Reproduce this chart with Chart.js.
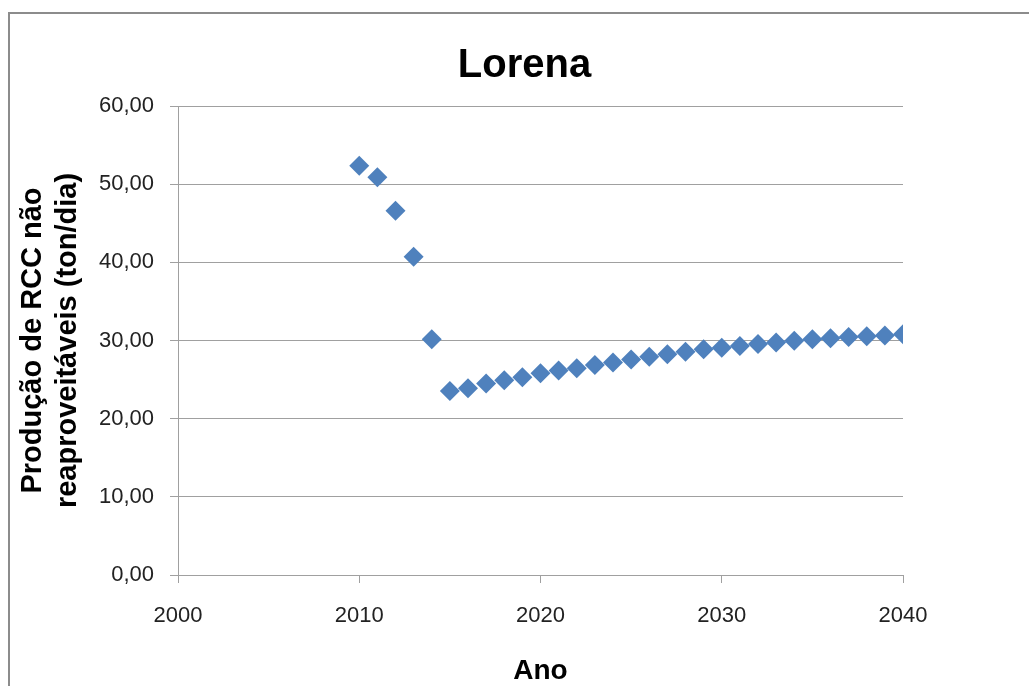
<!DOCTYPE html>
<html lang="pt">

<head>
    <meta charset="UTF-8">
    <title>Lorena</title>
    <style>
        body { margin: 0; background: #fff; }
        canvas { display: block; }
    </style>
</head>

<body>
    <canvas id="myChart" width="1029" height="686"></canvas>

    <script src="https://cdn.jsdelivr.net/npm/chart.js@4"></script>
    <script>
        // dados
        var anos = [2010, 2011, 2012, 2013, 2014, 2015, 2016, 2017, 2018, 2019, 2020,
            2021, 2022, 2023, 2024, 2025, 2026, 2027, 2028, 2029, 2030,
            2031, 2032, 2033, 2034, 2035, 2036, 2037, 2038, 2039, 2040];
        var producao = [52.36, 50.87, 46.60, 40.72, 30.15, 23.54, 23.90, 24.50, 24.90, 25.30, 25.80,
            26.15, 26.45, 26.85, 27.20, 27.58, 27.92, 28.23, 28.57, 28.87, 29.08,
            29.30, 29.55, 29.76, 29.98, 30.15, 30.28, 30.45, 30.55, 30.65, 30.80];
        var xTicks = [2000, 2010, 2020, 2030, 2040];
        var yTicks = [0, 10, 20, 30, 40, 50, 60];

        var pontos = anos.map(function (a, i) { return { x: a, y: producao[i] }; });

        // moldura cinza do grafico
        var moldura = {
            id: 'moldura',
            beforeDraw: function (chart) {
                var c = chart.ctx;
                c.save();
                c.fillStyle = '#fff';
                c.fillRect(0, 0, chart.width, chart.height);
                c.strokeStyle = '#8c8c8c';
                c.lineWidth = 2;
                c.strokeRect(9, 13, 1200, 1000);
                c.restore();
            }
        };

        var ctx = document.getElementById('myChart').getContext('2d');
        var chart = new Chart(ctx, {
            type: 'scatter',
            data: {
                datasets: [{
                    label: 'Lorena',
                    data: pontos,
                    pointStyle: 'rectRot',
                    pointRadius: 10,
                    pointHoverRadius: 10,
                    backgroundColor: '#4f81bd',
                    borderColor: '#4f81bd',
                    borderWidth: 0
                }]
            },
            options: {
                responsive: false,
                animation: false,
                layout: { padding: { left: 20, right: 0, top: 0, bottom: 0 } },
                plugins: {
                    legend: { display: false },
                    tooltip: { enabled: false },
                    title: {
                        display: true,
                        text: 'Lorena',
                        color: '#000',
                        font: { family: 'Liberation Sans, Arial, sans-serif', size: 40, weight: 'bold', lineHeight: 1.2 },
                        padding: { top: 42, bottom: 16 }
                    }
                },
                scales: {
                    x: {
                        type: 'linear',
                        min: 2000,
                        max: 2040,
                        afterBuildTicks: function (s) { s.ticks = xTicks.map(function (v) { return { value: v }; }); },
                        afterFit: function (s) { s.height = 111; },
                        grid: { drawOnChartArea: false, drawTicks: true, tickLength: 8, color: '#a0a0a0' },
                        border: { color: '#a0a0a0', width: 1 },
                        ticks: {
                            color: '#222',
                            padding: 20,
                            maxRotation: 0,
                            font: { family: 'Liberation Sans, Arial, sans-serif', size: 22 },
                            callback: function (v) { return String(v); }
                        },
                        title: {
                            display: true,
                            text: 'Ano',
                            color: '#000',
                            font: { family: 'Liberation Sans, Arial, sans-serif', size: 28, weight: 'bold', lineHeight: 1 },
                            padding: { top: 0, bottom: 1 }
                        }
                    },
                    y: {
                        min: 0,
                        max: 60,
                        afterBuildTicks: function (s) { s.ticks = yTicks.map(function (v) { return { value: v }; }); },
                        afterFit: function (s) { s.width = 158; },
                        grid: { color: '#a0a0a0', drawTicks: true, tickLength: 8 },
                        border: { color: '#a0a0a0', width: 1 },
                        ticks: {
                            color: '#222',
                            padding: 16,
                            font: { family: 'Liberation Sans, Arial, sans-serif', size: 22 },
                            callback: function (v) { return v.toFixed(2).replace('.', ','); }
                        },
                        title: {
                            display: true,
                            text: ['Produção de RCC não', 'reaproveitáveis (ton/dia)'],
                            color: '#000',
                            font: { family: 'Liberation Sans, Arial, sans-serif', size: 29, weight: 'bold', lineHeight: 1.2 },
                            padding: { top: -4, bottom: 0 }
                        }
                    },
                    // espaco vazio a direita da area do grafico
                    margem: {
                        type: 'linear',
                        position: 'right',
                        display: true,
                        afterFit: function (s) { s.width = 126; },
                        grid: { display: false },
                        border: { display: false },
                        ticks: { display: false }
                    }
                }
            },
            plugins: [moldura]
        });
    </script>
</body>

</html>
